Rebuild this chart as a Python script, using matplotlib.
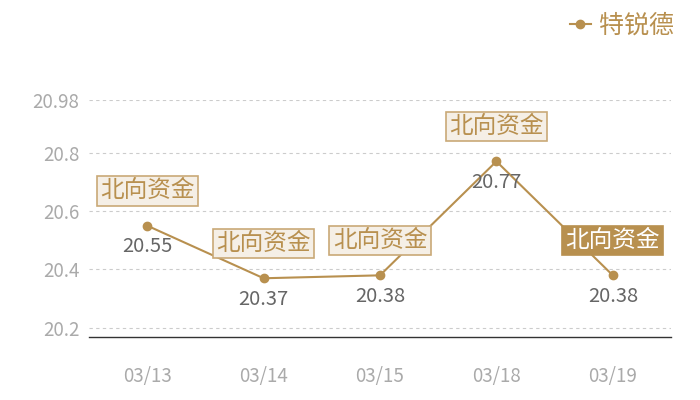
import matplotlib
matplotlib.use("Agg")
import matplotlib.pyplot as plt

plt.rcParams['font.family'] = ['Noto Sans CJK SC', 'DejaVu Sans']

dates = ["03/13", "03/14", "03/15", "03/18", "03/19"]
values = [20.55, 20.37, 20.38, 20.77, 20.38]
series_name = "特锐德"
tag_text = "北向资金"
yticks = [20.2, 20.4, 20.6, 20.8, 20.98]
ytick_labels = ["20.2", "20.4", "20.6", "20.8", "20.98"]

gold = "#b8904f"

fig = plt.figure(figsize=(7, 4), dpi=100)
ax = fig.add_axes([89/700, 63/400, 582/700, 237/400])

x = list(range(len(dates)))
ax.plot(x, values, color=gold, lw=1.5, marker='o', markersize=6, label=series_name, zorder=3)

ax.set_xlim(-0.5, len(dates) - 0.5)
ax.set_ylim(20.169, 20.98)
ax.set_yticks(yticks)
ax.set_yticklabels(ytick_labels)
ax.set_xticks(x)
ax.set_xticklabels(dates)
ax.tick_params(axis='both', length=0, colors='#aaaaaa', labelsize=13.5)
ax.tick_params(axis='x', pad=21)
ax.tick_params(axis='y', pad=7)

for s in ['top', 'right', 'left']:
    ax.spines[s].set_visible(False)
ax.spines['bottom'].set_color('#333333')
ax.spines['bottom'].set_linewidth(1)

ax.yaxis.grid(True, linestyle=(0, (3, 3)), color='#cccccc', lw=0.8)
ax.set_axisbelow(True)

for i, v in enumerate(values):
    ax.annotate(f"{v:.2f}", (i, v), xytext=(0, -15), textcoords='offset points',
                ha='center', va='center', fontsize=14.5, color='#666666', zorder=4)
    last = (i == len(values) - 1)
    ax.annotate(tag_text, (i, v), xytext=(0, 25), textcoords='offset points',
                ha='center', va='center', fontsize=17,
                color='white' if last else gold, zorder=5,
                bbox=dict(boxstyle='square,pad=0.14',
                          fc=gold if last else '#f5efe6',
                          ec=gold if last else '#c9a977', lw=1.2))

leg = ax.legend(loc='upper right', bbox_to_anchor=(686/700, 1.0), bbox_transform=fig.transFigure,
                frameon=False, fontsize=18, handlelength=0.85, handletextpad=0.3,
                borderaxespad=0.1)
for t in leg.get_texts():
    t.set_color(gold)

fig.savefig("out.png", dpi=100)
